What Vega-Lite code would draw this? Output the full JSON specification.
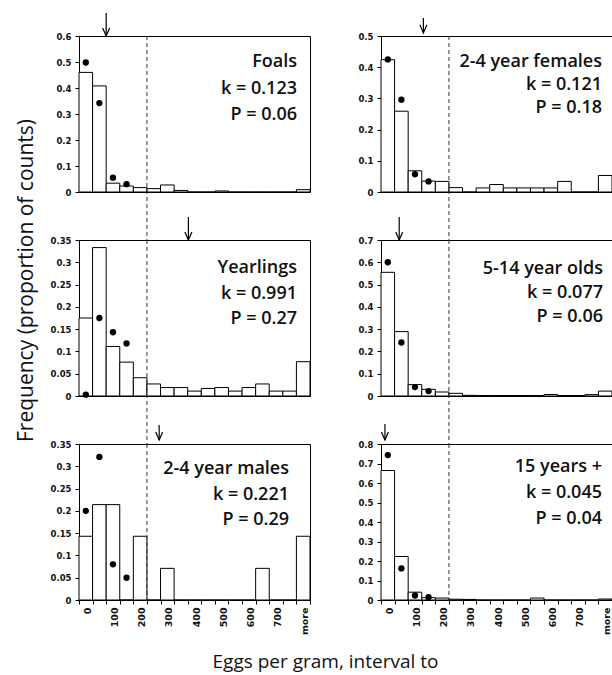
{
  "$schema": "https://vega.github.io/schema/vega-lite/v6.json",
  "padding": {"left": 14, "top": 12, "right": 0, "bottom": 0},
  "bounds": "flush",
  "columns": 2,
  "spacing": {"row": 48, "column": 71},
  "config": {
    "view": {"stroke": "black", "strokeWidth": 1},
    "axis": {"domainColor": "black", "domainWidth": 1, "tickColor": "black", "tickWidth": 1, "tickSize": 4, "grid": false}
  },
  "datasets": {
    "bins": [
      {"panel":"Foals","bin":"0","obs":0.46,"exp":0.498},
      {"panel":"Foals","bin":"50","obs":0.408,"exp":0.342},
      {"panel":"Foals","bin":"100","obs":0.034,"exp":0.055},
      {"panel":"Foals","bin":"150","obs":0.023,"exp":0.03},
      {"panel":"Foals","bin":"200","obs":0.017},
      {"panel":"Foals","bin":"250","obs":0.013},
      {"panel":"Foals","bin":"300","obs":0.027},
      {"panel":"Foals","bin":"350","obs":0.006},
      {"panel":"Foals","bin":"400","obs":0},
      {"panel":"Foals","bin":"450","obs":0},
      {"panel":"Foals","bin":"500","obs":0.004},
      {"panel":"Foals","bin":"550","obs":0},
      {"panel":"Foals","bin":"600","obs":0},
      {"panel":"Foals","bin":"650","obs":0},
      {"panel":"Foals","bin":"700","obs":0},
      {"panel":"Foals","bin":"750","obs":0},
      {"panel":"Foals","bin":"more","obs":0.009},
      {"panel":"Females","bin":"0","obs":0.424,"exp":0.425},
      {"panel":"Females","bin":"50","obs":0.259,"exp":0.296},
      {"panel":"Females","bin":"100","obs":0.068,"exp":0.057},
      {"panel":"Females","bin":"150","obs":0.035,"exp":0.034},
      {"panel":"Females","bin":"200","obs":0.034},
      {"panel":"Females","bin":"250","obs":0.014},
      {"panel":"Females","bin":"300","obs":0},
      {"panel":"Females","bin":"350","obs":0.013},
      {"panel":"Females","bin":"400","obs":0.024},
      {"panel":"Females","bin":"450","obs":0.013},
      {"panel":"Females","bin":"500","obs":0.013},
      {"panel":"Females","bin":"550","obs":0.013},
      {"panel":"Females","bin":"600","obs":0.013},
      {"panel":"Females","bin":"650","obs":0.034},
      {"panel":"Females","bin":"700","obs":0},
      {"panel":"Females","bin":"750","obs":0},
      {"panel":"Females","bin":"more","obs":0.053},
      {"panel":"Yearlings","bin":"0","obs":0.175,"exp":0.003},
      {"panel":"Yearlings","bin":"50","obs":0.333,"exp":0.175},
      {"panel":"Yearlings","bin":"100","obs":0.111,"exp":0.143},
      {"panel":"Yearlings","bin":"150","obs":0.076,"exp":0.118},
      {"panel":"Yearlings","bin":"200","obs":0.041},
      {"panel":"Yearlings","bin":"250","obs":0.027},
      {"panel":"Yearlings","bin":"300","obs":0.019},
      {"panel":"Yearlings","bin":"350","obs":0.019},
      {"panel":"Yearlings","bin":"400","obs":0.011},
      {"panel":"Yearlings","bin":"450","obs":0.017},
      {"panel":"Yearlings","bin":"500","obs":0.019},
      {"panel":"Yearlings","bin":"550","obs":0.011},
      {"panel":"Yearlings","bin":"600","obs":0.019},
      {"panel":"Yearlings","bin":"650","obs":0.027},
      {"panel":"Yearlings","bin":"700","obs":0.011},
      {"panel":"Yearlings","bin":"750","obs":0.011},
      {"panel":"Yearlings","bin":"more","obs":0.077},
      {"panel":"Adults","bin":"0","obs":0.555,"exp":0.6},
      {"panel":"Adults","bin":"50","obs":0.289,"exp":0.24},
      {"panel":"Adults","bin":"100","obs":0.051,"exp":0.04},
      {"panel":"Adults","bin":"150","obs":0.03,"exp":0.022},
      {"panel":"Adults","bin":"200","obs":0.018},
      {"panel":"Adults","bin":"250","obs":0.012},
      {"panel":"Adults","bin":"300","obs":0.003},
      {"panel":"Adults","bin":"350","obs":0.002},
      {"panel":"Adults","bin":"400","obs":0.002},
      {"panel":"Adults","bin":"450","obs":0.002},
      {"panel":"Adults","bin":"500","obs":0.002},
      {"panel":"Adults","bin":"550","obs":0.002},
      {"panel":"Adults","bin":"600","obs":0.007},
      {"panel":"Adults","bin":"650","obs":0.002},
      {"panel":"Adults","bin":"700","obs":0.002},
      {"panel":"Adults","bin":"750","obs":0.006},
      {"panel":"Adults","bin":"more","obs":0.022},
      {"panel":"Males","bin":"0","obs":0.143,"exp":0.2},
      {"panel":"Males","bin":"50","obs":0.214,"exp":0.321},
      {"panel":"Males","bin":"100","obs":0.214,"exp":0.08},
      {"panel":"Males","bin":"150","obs":0,"exp":0.05},
      {"panel":"Males","bin":"200","obs":0.143},
      {"panel":"Males","bin":"250","obs":0},
      {"panel":"Males","bin":"300","obs":0.071},
      {"panel":"Males","bin":"350","obs":0},
      {"panel":"Males","bin":"400","obs":0},
      {"panel":"Males","bin":"450","obs":0},
      {"panel":"Males","bin":"500","obs":0},
      {"panel":"Males","bin":"550","obs":0},
      {"panel":"Males","bin":"600","obs":0},
      {"panel":"Males","bin":"650","obs":0.071},
      {"panel":"Males","bin":"700","obs":0},
      {"panel":"Males","bin":"750","obs":0},
      {"panel":"Males","bin":"more","obs":0.143},
      {"panel":"Old","bin":"0","obs":0.664,"exp":0.743},
      {"panel":"Old","bin":"50","obs":0.223,"exp":0.162},
      {"panel":"Old","bin":"100","obs":0.04,"exp":0.023},
      {"panel":"Old","bin":"150","obs":0.012,"exp":0.014},
      {"panel":"Old","bin":"200","obs":0.01},
      {"panel":"Old","bin":"250","obs":0.004},
      {"panel":"Old","bin":"300","obs":0.003},
      {"panel":"Old","bin":"350","obs":0},
      {"panel":"Old","bin":"400","obs":0},
      {"panel":"Old","bin":"450","obs":0},
      {"panel":"Old","bin":"500","obs":0},
      {"panel":"Old","bin":"550","obs":0.01},
      {"panel":"Old","bin":"600","obs":0},
      {"panel":"Old","bin":"650","obs":0},
      {"panel":"Old","bin":"700","obs":0},
      {"panel":"Old","bin":"750","obs":0},
      {"panel":"Old","bin":"more","obs":0.005}
    ],
    "notes": [
      {"panel":"Foals","label":"Foals\nk = 0.123\nP = 0.06","arrow":2.0},
      {"panel":"Females","label":"2-4 year females\nk = 0.121\nP = 0.18","arrow":3.12},
      {"panel":"Yearlings","label":"Yearlings\nk = 0.991\nP = 0.27","arrow":8.05},
      {"panel":"Adults","label":"5-14 year olds\nk = 0.077\nP = 0.06","arrow":1.34},
      {"panel":"Males","label":"2-4 year males\nk = 0.221\nP = 0.29","arrow":5.9},
      {"panel":"Old","label":"15 years +\nk = 0.045\nP = 0.04","arrow":0.29}
    ]
  },
  "concat": [
    {
      "width": 231, "height": 156,
      "resolve": {"scale": {"x": "independent"}, "axis": {"y": "independent"}},
      "layer": [
        {"data": {"name": "bins"}, "transform": [{"filter": "datum.panel == 'Foals'"}],
         "mark": {"type": "bar", "fill": "white", "stroke": "black", "strokeWidth": 1},
         "encoding": {
           "x": {"field": "bin", "type": "ordinal", "scale": {"type": "band", "domain": ["0","50","100","150","200","250","300","350","400","450","500","550","600","650","700","750","more"], "paddingInner": 0, "paddingOuter": 0}, "axis": null},
           "y": {"field": "obs", "type": "quantitative", "scale": {"domain": [0, 0.6], "nice": false}, "axis": {"title": null, "values": [0,0.1,0.2,0.3,0.4,0.5,0.6], "format": "~g", "labelFont": "DejaVu Sans", "labelFontWeight": "bold", "labelFontSize": 8.5, "labelColor": "#111", "labelPadding": 4}}
         }},
        {"data": {"name": "bins"}, "transform": [{"filter": "datum.panel == 'Foals' && isValid(datum.exp)"}],
         "mark": {"type": "circle", "size": 40, "color": "black", "opacity": 1},
         "encoding": {
           "x": {"field": "bin", "type": "ordinal", "scale": {"type": "band", "domain": ["0","50","100","150","200","250","300","350","400","450","500","550","600","650","700","750","more"], "paddingInner": 0, "paddingOuter": 0}, "axis": null},
           "y": {"field": "exp", "type": "quantitative", "scale": {"domain": [0, 0.6], "nice": false}, "axis": null}
         }},
        {"data": {"name": "notes"}, "transform": [{"filter": "datum.panel == 'Foals'"}],
         "mark": {"type": "rule", "stroke": "#333", "strokeWidth": 1, "strokeDash": [4, 3]},
         "encoding": {
           "x": {"datum": 5, "type": "quantitative", "scale": {"domain": [0, 17], "nice": false}, "axis": null},
           "y": {"datum": 0.6, "type": "quantitative", "scale": {"domain": [0, 0.6], "nice": false}, "axis": null},
           "y2": {"datum": -0.185}
         }},
        {"data": {"name": "notes"}, "transform": [{"filter": "datum.panel == 'Foals'"}],
         "mark": {"type": "rule", "stroke": "black", "strokeWidth": 1.2},
         "encoding": {
           "x": {"field": "arrow", "type": "quantitative", "scale": {"domain": [0, 17], "nice": false}, "axis": null},
           "y": {"datum": 0.6, "type": "quantitative", "scale": {"domain": [0, 0.6], "nice": false}, "axis": null},
           "y2": {"datum": 0.688}
         }},
        {"data": {"name": "notes"}, "transform": [{"filter": "datum.panel == 'Foals'"}],
         "mark": {"type": "point", "shape": "M-1,-2.3L0,0L1,-2.3", "size": 49, "filled": false, "stroke": "black", "strokeWidth": 1.2, "opacity": 1},
         "encoding": {
           "x": {"field": "arrow", "type": "quantitative", "scale": {"domain": [0, 17], "nice": false}, "axis": null},
           "y": {"datum": 0.6, "type": "quantitative", "scale": {"domain": [0, 0.6], "nice": false}, "axis": null}
         }},
        {"data": {"name": "notes"}, "transform": [{"filter": "datum.panel == 'Foals'"}],
         "mark": {"type": "text", "align": "right", "baseline": "top", "dx": -13, "dy": 17, "lineBreak": "\n", "lineHeight": 26.5, "font": "Open Sans", "fontSize": 18, "fontWeight": 600, "color": "#111"},
         "encoding": {
           "x": {"datum": 17, "type": "quantitative", "scale": {"domain": [0, 17], "nice": false}, "axis": null},
           "y": {"datum": 0.6, "type": "quantitative", "scale": {"domain": [0, 0.6], "nice": false}, "axis": null},
           "text": {"field": "label"}
         }}
      ]
    },
    {
      "width": 231, "height": 156,
      "resolve": {"scale": {"x": "independent"}, "axis": {"y": "independent"}},
      "layer": [
        {"data": {"name": "bins"}, "transform": [{"filter": "datum.panel == 'Females'"}],
         "mark": {"type": "bar", "fill": "white", "stroke": "black", "strokeWidth": 1},
         "encoding": {
           "x": {"field": "bin", "type": "ordinal", "scale": {"type": "band", "domain": ["0","50","100","150","200","250","300","350","400","450","500","550","600","650","700","750","more"], "paddingInner": 0, "paddingOuter": 0}, "axis": null},
           "y": {"field": "obs", "type": "quantitative", "scale": {"domain": [0, 0.5], "nice": false}, "axis": {"title": null, "values": [0,0.1,0.2,0.3,0.4,0.5], "format": "~g", "labelFont": "DejaVu Sans", "labelFontWeight": "bold", "labelFontSize": 8.5, "labelColor": "#111", "labelPadding": 4}}
         }},
        {"data": {"name": "bins"}, "transform": [{"filter": "datum.panel == 'Females' && isValid(datum.exp)"}],
         "mark": {"type": "circle", "size": 40, "color": "black", "opacity": 1},
         "encoding": {
           "x": {"field": "bin", "type": "ordinal", "scale": {"type": "band", "domain": ["0","50","100","150","200","250","300","350","400","450","500","550","600","650","700","750","more"], "paddingInner": 0, "paddingOuter": 0}, "axis": null},
           "y": {"field": "exp", "type": "quantitative", "scale": {"domain": [0, 0.5], "nice": false}, "axis": null}
         }},
        {"data": {"name": "notes"}, "transform": [{"filter": "datum.panel == 'Females'"}],
         "mark": {"type": "rule", "stroke": "#333", "strokeWidth": 1, "strokeDash": [4, 3]},
         "encoding": {
           "x": {"datum": 5, "type": "quantitative", "scale": {"domain": [0, 17], "nice": false}, "axis": null},
           "y": {"datum": 0.5, "type": "quantitative", "scale": {"domain": [0, 0.5], "nice": false}, "axis": null},
           "y2": {"datum": -0.154}
         }},
        {"data": {"name": "notes"}, "transform": [{"filter": "datum.panel == 'Females'"}],
         "mark": {"type": "rule", "stroke": "black", "strokeWidth": 1.2},
         "encoding": {
           "x": {"field": "arrow", "type": "quantitative", "scale": {"domain": [0, 17], "nice": false}, "axis": null},
           "y": {"datum": 0.51, "type": "quantitative", "scale": {"domain": [0, 0.5], "nice": false}, "axis": null},
           "y2": {"datum": 0.558}
         }},
        {"data": {"name": "notes"}, "transform": [{"filter": "datum.panel == 'Females'"}],
         "mark": {"type": "point", "shape": "M-1,-2.3L0,0L1,-2.3", "size": 49, "filled": false, "stroke": "black", "strokeWidth": 1.2, "opacity": 1},
         "encoding": {
           "x": {"field": "arrow", "type": "quantitative", "scale": {"domain": [0, 17], "nice": false}, "axis": null},
           "y": {"datum": 0.51, "type": "quantitative", "scale": {"domain": [0, 0.5], "nice": false}, "axis": null}
         }},
        {"data": {"name": "notes"}, "transform": [{"filter": "datum.panel == 'Females'"}],
         "mark": {"type": "text", "align": "right", "baseline": "top", "dx": -10, "dy": 17, "lineBreak": "\n", "lineHeight": 23, "font": "Open Sans", "fontSize": 18, "fontWeight": 600, "color": "#111"},
         "encoding": {
           "x": {"datum": 17, "type": "quantitative", "scale": {"domain": [0, 17], "nice": false}, "axis": null},
           "y": {"datum": 0.5, "type": "quantitative", "scale": {"domain": [0, 0.5], "nice": false}, "axis": null},
           "text": {"field": "label"}
         }}
      ]
    },
    {
      "width": 231, "height": 156,
      "resolve": {"scale": {"x": "independent"}, "axis": {"y": "independent"}},
      "layer": [
        {"data": {"name": "bins"}, "transform": [{"filter": "datum.panel == 'Yearlings'"}],
         "mark": {"type": "bar", "fill": "white", "stroke": "black", "strokeWidth": 1},
         "encoding": {
           "x": {"field": "bin", "type": "ordinal", "scale": {"type": "band", "domain": ["0","50","100","150","200","250","300","350","400","450","500","550","600","650","700","750","more"], "paddingInner": 0, "paddingOuter": 0}, "axis": null},
           "y": {"field": "obs", "type": "quantitative", "scale": {"domain": [0, 0.35], "nice": false}, "axis": {"title": "Frequency (proportion of counts)", "titleFont": "Open Sans", "titleFontSize": 21, "titleFontWeight": "normal", "titleColor": "#111", "titleX": -46.5, "titleY": 40, "titleAngle": 270, "titleBaseline": "alphabetic", "titleAlign": "center", "values": [0,0.05,0.1,0.15,0.2,0.25,0.3,0.35], "format": "~g", "labelFont": "DejaVu Sans", "labelFontWeight": "bold", "labelFontSize": 8.5, "labelColor": "#111", "labelPadding": 4}}
         }},
        {"data": {"name": "bins"}, "transform": [{"filter": "datum.panel == 'Yearlings' && isValid(datum.exp)"}],
         "mark": {"type": "circle", "size": 40, "color": "black", "opacity": 1},
         "encoding": {
           "x": {"field": "bin", "type": "ordinal", "scale": {"type": "band", "domain": ["0","50","100","150","200","250","300","350","400","450","500","550","600","650","700","750","more"], "paddingInner": 0, "paddingOuter": 0}, "axis": null},
           "y": {"field": "exp", "type": "quantitative", "scale": {"domain": [0, 0.35], "nice": false}, "axis": null}
         }},
        {"data": {"name": "notes"}, "transform": [{"filter": "datum.panel == 'Yearlings'"}],
         "mark": {"type": "rule", "stroke": "#333", "strokeWidth": 1, "strokeDash": [4, 3]},
         "encoding": {
           "x": {"datum": 5, "type": "quantitative", "scale": {"domain": [0, 17], "nice": false}, "axis": null},
           "y": {"datum": 0.35, "type": "quantitative", "scale": {"domain": [0, 0.35], "nice": false}, "axis": null},
           "y2": {"datum": -0.108}
         }},
        {"data": {"name": "notes"}, "transform": [{"filter": "datum.panel == 'Yearlings'"}],
         "mark": {"type": "rule", "stroke": "black", "strokeWidth": 1.2},
         "encoding": {
           "x": {"field": "arrow", "type": "quantitative", "scale": {"domain": [0, 17], "nice": false}, "axis": null},
           "y": {"datum": 0.35, "type": "quantitative", "scale": {"domain": [0, 0.35], "nice": false}, "axis": null},
           "y2": {"datum": 0.4016}
         }},
        {"data": {"name": "notes"}, "transform": [{"filter": "datum.panel == 'Yearlings'"}],
         "mark": {"type": "point", "shape": "M-1,-2.3L0,0L1,-2.3", "size": 49, "filled": false, "stroke": "black", "strokeWidth": 1.2, "opacity": 1},
         "encoding": {
           "x": {"field": "arrow", "type": "quantitative", "scale": {"domain": [0, 17], "nice": false}, "axis": null},
           "y": {"datum": 0.35, "type": "quantitative", "scale": {"domain": [0, 0.35], "nice": false}, "axis": null}
         }},
        {"data": {"name": "notes"}, "transform": [{"filter": "datum.panel == 'Yearlings'"}],
         "mark": {"type": "text", "align": "right", "baseline": "top", "dx": -13, "dy": 19, "lineBreak": "\n", "lineHeight": 25.5, "font": "Open Sans", "fontSize": 18, "fontWeight": 600, "color": "#111"},
         "encoding": {
           "x": {"datum": 17, "type": "quantitative", "scale": {"domain": [0, 17], "nice": false}, "axis": null},
           "y": {"datum": 0.35, "type": "quantitative", "scale": {"domain": [0, 0.35], "nice": false}, "axis": null},
           "text": {"field": "label"}
         }}
      ]
    },
    {
      "width": 231, "height": 156,
      "resolve": {"scale": {"x": "independent"}, "axis": {"y": "independent"}},
      "layer": [
        {"data": {"name": "bins"}, "transform": [{"filter": "datum.panel == 'Adults'"}],
         "mark": {"type": "bar", "fill": "white", "stroke": "black", "strokeWidth": 1},
         "encoding": {
           "x": {"field": "bin", "type": "ordinal", "scale": {"type": "band", "domain": ["0","50","100","150","200","250","300","350","400","450","500","550","600","650","700","750","more"], "paddingInner": 0, "paddingOuter": 0}, "axis": null},
           "y": {"field": "obs", "type": "quantitative", "scale": {"domain": [0, 0.7], "nice": false}, "axis": {"title": null, "values": [0,0.1,0.2,0.3,0.4,0.5,0.6,0.7], "format": "~g", "labelFont": "DejaVu Sans", "labelFontWeight": "bold", "labelFontSize": 8.5, "labelColor": "#111", "labelPadding": 4}}
         }},
        {"data": {"name": "bins"}, "transform": [{"filter": "datum.panel == 'Adults' && isValid(datum.exp)"}],
         "mark": {"type": "circle", "size": 40, "color": "black", "opacity": 1},
         "encoding": {
           "x": {"field": "bin", "type": "ordinal", "scale": {"type": "band", "domain": ["0","50","100","150","200","250","300","350","400","450","500","550","600","650","700","750","more"], "paddingInner": 0, "paddingOuter": 0}, "axis": null},
           "y": {"field": "exp", "type": "quantitative", "scale": {"domain": [0, 0.7], "nice": false}, "axis": null}
         }},
        {"data": {"name": "notes"}, "transform": [{"filter": "datum.panel == 'Adults'"}],
         "mark": {"type": "rule", "stroke": "#333", "strokeWidth": 1, "strokeDash": [4, 3]},
         "encoding": {
           "x": {"datum": 5, "type": "quantitative", "scale": {"domain": [0, 17], "nice": false}, "axis": null},
           "y": {"datum": 0.7, "type": "quantitative", "scale": {"domain": [0, 0.7], "nice": false}, "axis": null},
           "y2": {"datum": -0.215}
         }},
        {"data": {"name": "notes"}, "transform": [{"filter": "datum.panel == 'Adults'"}],
         "mark": {"type": "rule", "stroke": "black", "strokeWidth": 1.2},
         "encoding": {
           "x": {"field": "arrow", "type": "quantitative", "scale": {"domain": [0, 17], "nice": false}, "axis": null},
           "y": {"datum": 0.7, "type": "quantitative", "scale": {"domain": [0, 0.7], "nice": false}, "axis": null},
           "y2": {"datum": 0.803}
         }},
        {"data": {"name": "notes"}, "transform": [{"filter": "datum.panel == 'Adults'"}],
         "mark": {"type": "point", "shape": "M-1,-2.3L0,0L1,-2.3", "size": 49, "filled": false, "stroke": "black", "strokeWidth": 1.2, "opacity": 1},
         "encoding": {
           "x": {"field": "arrow", "type": "quantitative", "scale": {"domain": [0, 17], "nice": false}, "axis": null},
           "y": {"datum": 0.7, "type": "quantitative", "scale": {"domain": [0, 0.7], "nice": false}, "axis": null}
         }},
        {"data": {"name": "notes"}, "transform": [{"filter": "datum.panel == 'Adults'"}],
         "mark": {"type": "text", "align": "right", "baseline": "top", "dx": -9, "dy": 20, "lineBreak": "\n", "lineHeight": 24, "font": "Open Sans", "fontSize": 18, "fontWeight": 600, "color": "#111"},
         "encoding": {
           "x": {"datum": 17, "type": "quantitative", "scale": {"domain": [0, 17], "nice": false}, "axis": null},
           "y": {"datum": 0.7, "type": "quantitative", "scale": {"domain": [0, 0.7], "nice": false}, "axis": null},
           "text": {"field": "label"}
         }}
      ]
    },
    {
      "width": 231, "height": 156,
      "resolve": {"scale": {"x": "independent"}, "axis": {"y": "independent"}},
      "layer": [
        {"data": {"name": "bins"}, "transform": [{"filter": "datum.panel == 'Males'"}],
         "mark": {"type": "bar", "fill": "white", "stroke": "black", "strokeWidth": 1},
         "encoding": {
           "x": {"field": "bin", "type": "ordinal", "scale": {"type": "band", "domain": ["0","50","100","150","200","250","300","350","400","450","500","550","600","650","700","750","more"], "paddingInner": 0, "paddingOuter": 0}, "axis": {"title": "Eggs per gram, interval to", "titleFont": "Open Sans", "titleFontSize": 19, "titleFontWeight": "normal", "titleColor": "#111", "titleX": 246, "titleY": 67, "titleBaseline": "alphabetic", "titleAlign": "center", "tickBand": "extent", "labelAngle": 270, "labelExpr": "indexof(['0','100','200','300','400','500','600','700','more'], datum.label) >= 0 ? datum.label : ''", "labelFont": "DejaVu Sans", "labelFontWeight": "bold", "labelFontSize": 9.5, "labelColor": "#111", "labelPadding": 3, "labelOffset": 1.5}},
           "y": {"field": "obs", "type": "quantitative", "scale": {"domain": [0, 0.35], "nice": false}, "axis": {"title": null, "values": [0,0.05,0.1,0.15,0.2,0.25,0.3,0.35], "format": "~g", "labelFont": "DejaVu Sans", "labelFontWeight": "bold", "labelFontSize": 8.5, "labelColor": "#111", "labelPadding": 4}}
         }},
        {"data": {"name": "bins"}, "transform": [{"filter": "datum.panel == 'Males' && isValid(datum.exp)"}],
         "mark": {"type": "circle", "size": 40, "color": "black", "opacity": 1},
         "encoding": {
           "x": {"field": "bin", "type": "ordinal", "scale": {"type": "band", "domain": ["0","50","100","150","200","250","300","350","400","450","500","550","600","650","700","750","more"], "paddingInner": 0, "paddingOuter": 0}, "axis": null},
           "y": {"field": "exp", "type": "quantitative", "scale": {"domain": [0, 0.35], "nice": false}, "axis": null}
         }},
        {"data": {"name": "notes"}, "transform": [{"filter": "datum.panel == 'Males'"}],
         "mark": {"type": "rule", "stroke": "#333", "strokeWidth": 1, "strokeDash": [4, 3]},
         "encoding": {
           "x": {"datum": 5, "type": "quantitative", "scale": {"domain": [0, 17], "nice": false}, "axis": null},
           "y": {"datum": 0.35, "type": "quantitative", "scale": {"domain": [0, 0.35], "nice": false}, "axis": null},
           "y2": {"datum": 0}
         }},
        {"data": {"name": "notes"}, "transform": [{"filter": "datum.panel == 'Males'"}],
         "mark": {"type": "rule", "stroke": "black", "strokeWidth": 1.2},
         "encoding": {
           "x": {"field": "arrow", "type": "quantitative", "scale": {"domain": [0, 17], "nice": false}, "axis": null},
           "y": {"datum": 0.359, "type": "quantitative", "scale": {"domain": [0, 0.35], "nice": false}, "axis": null},
           "y2": {"datum": 0.3926}
         }},
        {"data": {"name": "notes"}, "transform": [{"filter": "datum.panel == 'Males'"}],
         "mark": {"type": "point", "shape": "M-1,-2.3L0,0L1,-2.3", "size": 49, "filled": false, "stroke": "black", "strokeWidth": 1.2, "opacity": 1},
         "encoding": {
           "x": {"field": "arrow", "type": "quantitative", "scale": {"domain": [0, 17], "nice": false}, "axis": null},
           "y": {"datum": 0.359, "type": "quantitative", "scale": {"domain": [0, 0.35], "nice": false}, "axis": null}
         }},
        {"data": {"name": "notes"}, "transform": [{"filter": "datum.panel == 'Males'"}],
         "mark": {"type": "text", "align": "right", "baseline": "top", "dx": -21, "dy": 16, "lineBreak": "\n", "lineHeight": 25.5, "font": "Open Sans", "fontSize": 18, "fontWeight": 600, "color": "#111"},
         "encoding": {
           "x": {"datum": 17, "type": "quantitative", "scale": {"domain": [0, 17], "nice": false}, "axis": null},
           "y": {"datum": 0.35, "type": "quantitative", "scale": {"domain": [0, 0.35], "nice": false}, "axis": null},
           "text": {"field": "label"}
         }}
      ]
    },
    {
      "width": 231, "height": 156,
      "resolve": {"scale": {"x": "independent"}, "axis": {"y": "independent"}},
      "layer": [
        {"data": {"name": "bins"}, "transform": [{"filter": "datum.panel == 'Old'"}],
         "mark": {"type": "bar", "fill": "white", "stroke": "black", "strokeWidth": 1},
         "encoding": {
           "x": {"field": "bin", "type": "ordinal", "scale": {"type": "band", "domain": ["0","50","100","150","200","250","300","350","400","450","500","550","600","650","700","750","more"], "paddingInner": 0, "paddingOuter": 0}, "axis": {"title": null, "tickBand": "extent", "labelAngle": 270, "labelExpr": "indexof(['0','100','200','300','400','500','600','700','more'], datum.label) >= 0 ? datum.label : ''", "labelFont": "DejaVu Sans", "labelFontWeight": "bold", "labelFontSize": 9.5, "labelColor": "#111", "labelPadding": 3, "labelOffset": 1.5}},
           "y": {"field": "obs", "type": "quantitative", "scale": {"domain": [0, 0.8], "nice": false}, "axis": {"title": null, "values": [0,0.1,0.2,0.3,0.4,0.5,0.6,0.7,0.8], "format": "~g", "labelFont": "DejaVu Sans", "labelFontWeight": "bold", "labelFontSize": 8.5, "labelColor": "#111", "labelPadding": 4}}
         }},
        {"data": {"name": "bins"}, "transform": [{"filter": "datum.panel == 'Old' && isValid(datum.exp)"}],
         "mark": {"type": "circle", "size": 40, "color": "black", "opacity": 1},
         "encoding": {
           "x": {"field": "bin", "type": "ordinal", "scale": {"type": "band", "domain": ["0","50","100","150","200","250","300","350","400","450","500","550","600","650","700","750","more"], "paddingInner": 0, "paddingOuter": 0}, "axis": null},
           "y": {"field": "exp", "type": "quantitative", "scale": {"domain": [0, 0.8], "nice": false}, "axis": null}
         }},
        {"data": {"name": "notes"}, "transform": [{"filter": "datum.panel == 'Old'"}],
         "mark": {"type": "rule", "stroke": "#333", "strokeWidth": 1, "strokeDash": [4, 3]},
         "encoding": {
           "x": {"datum": 5, "type": "quantitative", "scale": {"domain": [0, 17], "nice": false}, "axis": null},
           "y": {"datum": 0.8, "type": "quantitative", "scale": {"domain": [0, 0.8], "nice": false}, "axis": null},
           "y2": {"datum": 0}
         }},
        {"data": {"name": "notes"}, "transform": [{"filter": "datum.panel == 'Old'"}],
         "mark": {"type": "rule", "stroke": "black", "strokeWidth": 1.2},
         "encoding": {
           "x": {"field": "arrow", "type": "quantitative", "scale": {"domain": [0, 17], "nice": false}, "axis": null},
           "y": {"datum": 0.8205, "type": "quantitative", "scale": {"domain": [0, 0.8], "nice": false}, "axis": null},
           "y2": {"datum": 0.9026}
         }},
        {"data": {"name": "notes"}, "transform": [{"filter": "datum.panel == 'Old'"}],
         "mark": {"type": "point", "shape": "M-1,-2.3L0,0L1,-2.3", "size": 49, "filled": false, "stroke": "black", "strokeWidth": 1.2, "opacity": 1},
         "encoding": {
           "x": {"field": "arrow", "type": "quantitative", "scale": {"domain": [0, 17], "nice": false}, "axis": null},
           "y": {"datum": 0.8205, "type": "quantitative", "scale": {"domain": [0, 0.8], "nice": false}, "axis": null}
         }},
        {"data": {"name": "notes"}, "transform": [{"filter": "datum.panel == 'Old'"}],
         "mark": {"type": "text", "align": "right", "baseline": "top", "dx": -10, "dy": 14, "lineBreak": "\n", "lineHeight": 26, "font": "Open Sans", "fontSize": 18, "fontWeight": 600, "color": "#111"},
         "encoding": {
           "x": {"datum": 17, "type": "quantitative", "scale": {"domain": [0, 17], "nice": false}, "axis": null},
           "y": {"datum": 0.8, "type": "quantitative", "scale": {"domain": [0, 0.8], "nice": false}, "axis": null},
           "text": {"field": "label"}
         }}
      ]
    }
  ]
}
